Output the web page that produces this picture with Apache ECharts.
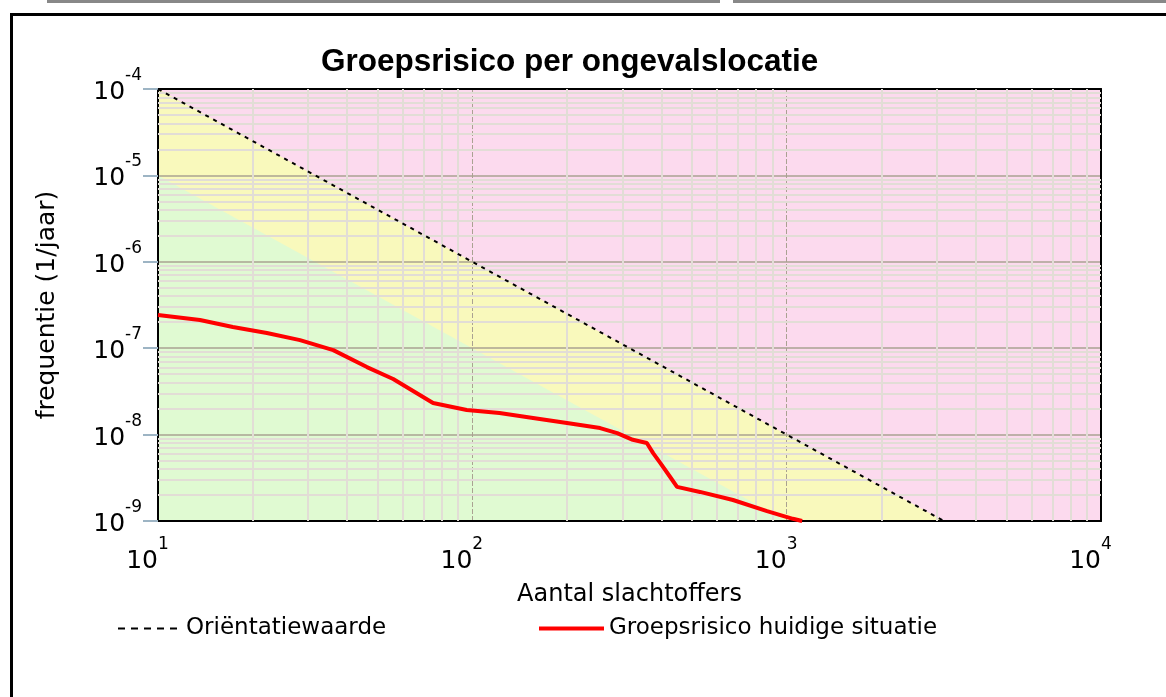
<!DOCTYPE html>
<html>
<head>
<meta charset="utf-8">
<script src="https://cdn.jsdelivr.net/npm/echarts@6/dist/echarts.min.js"></script>
<style>
  html, body { margin: 0; padding: 0; background: #fff; }
  #chart { width: 1166px; height: 697px; }
</style>
</head>
<body>
<div id="chart"></div>
<script>
// as-waarden
const xMin = 10, xMax = 10000;
const yMin = 1e-9, yMax = 1e-4;

// orientatiewaarde (F = 0.01 / N^2) en de grens 10x lager
const orientatieN = [10, 3162.28];
const orientatieF = [1e-4, 1e-9];
const grensN = [10, 1000];
const grensF = [1e-5, 1e-9];

// groepsrisico huidige situatie
const groepN = [10, 13.6, 17.3, 22.2, 28.3, 36.1, 46.2, 56, 75, 96, 122, 156, 200, 255, 289, 324, 359, 376, 396, 426, 448, 530, 675, 866, 1047, 1120];
const groepF = [2.42e-7, 2.12e-7, 1.76e-7, 1.5e-7, 1.24e-7, 9.5e-8, 6.05e-8, 4.4e-8, 2.32e-8, 1.93e-8, 1.78e-8, 1.56e-8, 1.36e-8, 1.19e-8, 1.04e-8, 8.7e-9, 8.0e-9, 6.1e-9, 4.7e-9, 3.23e-9, 2.48e-9, 2.17e-9, 1.75e-9, 1.3e-9, 1.06e-9, 1.0e-9];

// hulplijnen tussen de decades
const decadenX = [10, 100, 1000];
const decadenY = [1e-9, 1e-8, 1e-7, 1e-6, 1e-5];
const tussen = [2, 3, 4, 5, 6, 7, 8, 9];

const zip = (a, b) => a.map((v, i) => [v, b[i]]);

const rasterLijnen = [];
decadenX.forEach(d => tussen.forEach(k => rasterLijnen.push([{ coord: [d * k, yMin] }, { coord: [d * k, yMax] }])));
decadenY.forEach(d => tussen.forEach(k => rasterLijnen.push([{ coord: [xMin, d * k] }, { coord: [xMax, d * k] }])));

const FONT = 'DejaVu Sans';
const expLabel = v => '{base|10}{sup|' + Math.round(Math.log10(v)) + '}';
const richLabel = {
    base: { fontSize: 25, fontFamily: FONT, color: '#000', lineHeight: 38, verticalAlign: 'bottom' },
    sup: { fontSize: 17, fontFamily: FONT, color: '#000', lineHeight: 16, verticalAlign: 'top' },
    pad: { width: 21 }
};

const chart = echarts.init(document.getElementById('chart'));

const option = {
    animation: false,
    backgroundColor: '#fff',
    title: {
        text: 'Groepsrisico per ongevalslocatie',
        left: 316,
        top: 41,
        textStyle: { fontFamily: 'Liberation Sans', fontWeight: 'bold', fontSize: 31.5, color: '#000' }
    },
    grid: { left: 158, top: 89, right: 65, bottom: 176 },
    legend: [
        {
            data: ['Oriëntatiewaarde'],
            left: 112, top: 612,
            itemWidth: 63, itemHeight: 14, itemGap: 8,
            itemStyle: { color: 'rgba(0,0,0,0)', borderWidth: 0 },
            lineStyle: { width: 2, type: [7, 6] },
            textStyle: { fontFamily: FONT, fontSize: 23, color: '#000' }
        },
        {
            data: ['Groepsrisico huidige situatie'],
            left: 532, top: 612,
            itemWidth: 65, itemHeight: 14, itemGap: 5,
            itemStyle: { color: 'rgba(0,0,0,0)', borderWidth: 0 },
            lineStyle: { width: 4 },
            textStyle: { fontFamily: FONT, fontSize: 23, color: '#000' }
        }
    ],
    xAxis: [
        {
            type: 'log', logBase: 10, min: xMin, max: xMax, z: 3,
            name: 'Aantal slachtoffers', nameLocation: 'middle', nameGap: 62,
            nameTextStyle: { fontFamily: FONT, fontSize: 24, color: '#000' },
            axisLine: { show: true, lineStyle: { color: '#000', width: 2 } },
            axisTick: { show: false },
            axisLabel: {
                margin: 15,
                fontSize: 25, fontFamily: FONT, color: '#000',
                formatter: v => expLabel(v) + '{pad| }',
                rich: richLabel
            },
            splitLine: { show: true, lineStyle: { color: '#aaa292', width: 1, type: [5, 2] } }
        },
        {
            type: 'log', logBase: 10, min: xMin, max: xMax, position: 'top', z: 3,
            axisLine: { show: true, lineStyle: { color: '#000', width: 2 } },
            axisTick: { show: false }, axisLabel: { show: false }, splitLine: { show: false }
        }
    ],
    yAxis: [
        {
            type: 'log', logBase: 10, min: yMin, max: yMax, z: 3,
            name: 'frequentie (1/jaar)', nameLocation: 'middle', nameGap: 98, nameRotate: 90,
            nameTextStyle: { fontFamily: FONT, fontSize: 25, color: '#000' },
            axisLine: { show: true, lineStyle: { color: '#000', width: 2 } },
            axisTick: { show: true, length: 15, lineStyle: { color: '#9db4c4', width: 2 } },
            axisLabel: {
                margin: 16,
                padding: [0, 0, 6, 0],
                fontSize: 25, fontFamily: FONT, color: '#000',
                formatter: expLabel,
                rich: richLabel
            },
            splitLine: { show: true, lineStyle: { color: '#aaa292', width: 1.5 } }
        },
        {
            type: 'log', logBase: 10, min: yMin, max: yMax, position: 'right', z: 3,
            axisLine: { show: true, lineStyle: { color: '#000', width: 2 } },
            axisTick: { show: false }, axisLabel: { show: false }, splitLine: { show: false }
        }
    ],
    series: [
        {
            name: 'roze', type: 'line', z: 1, silent: true, symbol: 'none',
            data: [[xMin, yMax], [xMax, yMax]],
            lineStyle: { width: 0 },
            areaStyle: { color: '#fcdaee', opacity: 1, origin: 'start' }
        },
        {
            name: 'geel', type: 'line', z: 1, silent: true, symbol: 'none',
            data: zip(orientatieN, orientatieF),
            lineStyle: { width: 0 },
            areaStyle: { color: '#f9f9bc', opacity: 1, origin: 'start' }
        },
        {
            name: 'groen', type: 'line', z: 1, silent: true, symbol: 'none',
            data: zip(grensN, grensF),
            lineStyle: { width: 0 },
            areaStyle: { color: '#e0fad2', opacity: 1, origin: 'start' }
        },
        {
            name: 'raster', type: 'line', z: 2, silent: true, symbol: 'none',
            data: [],
            markLine: {
                silent: true, symbol: ['none', 'none'], animation: false,
                label: { show: false },
                lineStyle: { color: '#e2ddd6', width: 2, type: 'solid' },
                data: rasterLijnen
            }
        },
        {
            name: 'Oriëntatiewaarde', type: 'line', z: 5, symbol: 'none',
            data: zip(orientatieN, orientatieF),
            lineStyle: { color: '#000', width: 2, type: [4, 5] },
            itemStyle: { color: '#000' }
        },
        {
            name: 'Groepsrisico huidige situatie', type: 'line', z: 6, symbol: 'none',
            data: zip(groepN, groepF),
            lineStyle: { color: '#ff0000', width: 4 },
            itemStyle: { color: '#ff0000' }
        }
    ],
    graphic: [
        { type: 'rect', silent: true, shape: { x: 47, y: 0, width: 673, height: 3 }, style: { fill: '#888' } },
        { type: 'rect', silent: true, shape: { x: 733, y: 0, width: 440, height: 3 }, style: { fill: '#888' } },
        { type: 'rect', silent: true, shape: { x: 11.5, y: 14.5, width: 1200, height: 700 }, style: { fill: 'none', stroke: '#000', lineWidth: 3 } }
    ]
};

chart.setOption(option);
</script>
</body>
</html>
